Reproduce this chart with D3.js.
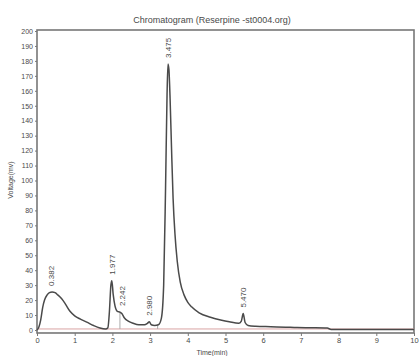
<!DOCTYPE html>
<html>
<head>
<meta charset="utf-8">
<script src="https://cdn.jsdelivr.net/npm/d3@7"></script>
<style>
  body { margin: 0; background: #fff; }
  svg { display: block; font-family: "Liberation Sans Narrow", "Liberation Sans", sans-serif; }
</style>
</head>
<body>
<div id="chart"></div>
<script>
// retention time (min) and detector voltage (mV)
const times = [0, 0.05, 0.1, 0.15, 0.2, 0.27, 0.33, 0.4, 0.48, 0.55, 0.65, 0.75, 0.875, 1.0, 1.15, 1.32, 1.5, 1.67, 1.82,
  1.88, 1.92, 1.96, 1.985, 2.02, 2.07, 2.13, 2.2, 2.25, 2.32, 2.42, 2.55, 2.7, 2.85, 2.93, 2.98, 3.03, 3.12, 3.22,
  3.3, 3.36, 3.41, 3.45, 3.475, 3.5, 3.53, 3.57, 3.61, 3.66, 3.72, 3.8, 3.9, 4.0, 4.1, 4.3, 4.6, 4.9, 5.1, 5.35,
  5.42, 5.47, 5.52, 5.6, 5.8, 6.2, 6.6, 6.9, 7.3, 7.7, 7.8, 8.5, 9.2, 10];
const volts = [0, 2, 7, 15, 20, 23.5, 25, 25.5, 25, 23.5, 21, 17.5, 12.5, 9.5, 7.3, 5.3, 3, 1.3, 0.6,
  1.5, 12, 30, 33, 24, 16, 12.5, 12, 11, 8, 6, 4.5, 3.5, 3.5, 4.5, 5.5, 3.5, 3, 3.5,
  8, 30, 95, 158, 178, 174, 155, 120, 88, 64, 46, 32, 23.5, 18.5, 15.5, 11.5, 8.5, 6.5, 5.5, 4.5,
  6, 11, 5, 3, 2.5, 2.2, 1.9, 1.6, 1.5, 1.3, 0.4, 0.3, 0.3, 0.3];

const peakTimes = [0.382, 1.977, 2.242, 2.980, 3.475, 5.470];
const peakHeights = [25.5, 33, 12, 5.5, 178, 11];
const peakLabels = ["0.382", "1.977", "2.242", "2.980", "3.475", "5.470"];
const dropTimes = [2.2, 3.2];

const xTicks = d3.range(0, 11, 1);
const yTicks = d3.range(0, 201, 10);

const W = 419, H = 356;
const svg = d3.select("#chart").append("svg").attr("width", W).attr("height", H);

const x = d3.scaleLinear().domain([0, 10]).range([37, 414]);
const y = d3.scaleLinear().domain([0, 200]).range([330, 31]);
const yBottom = y(-2);

const ink = "#4a4a4a";

// frame
svg.append("rect")
  .attr("x", x(0)).attr("y", y(200) - 1)
  .attr("width", x(10) - x(0)).attr("height", yBottom - y(200) + 1)
  .attr("fill", "none").attr("stroke", "#777").attr("stroke-width", 1.6);

// axes
const yAxis = svg.append("g").attr("transform", `translate(${x(0)},0)`)
  .call(d3.axisLeft(y).tickValues(yTicks).tickSize(2).tickPadding(2));
yAxis.select(".domain").remove();
yAxis.selectAll("text").attr("font-size", 7).attr("fill", ink);
yAxis.selectAll("line").attr("stroke", "#777");

const xAxis = svg.append("g").attr("transform", `translate(0,${yBottom})`)
  .call(d3.axisBottom(x).tickValues(xTicks).tickSize(3).tickPadding(2));
xAxis.select(".domain").remove();
xAxis.selectAll("text").attr("font-size", 7.5).attr("fill", ink);
xAxis.selectAll("line").attr("stroke", "#777");

// baseline
svg.append("line")
  .attr("x1", x(0)).attr("x2", x(10))
  .attr("y1", y(0.7)).attr("y2", y(0.7))
  .attr("stroke", "#d9a3a3").attr("stroke-width", 1);

// integration drop lines
svg.selectAll(".drop").data(dropTimes).enter().append("line")
  .attr("x1", d => x(d)).attr("x2", d => x(d))
  .attr("y1", y(0.7)).attr("y2", (d, i) => y(i === 0 ? 12 : 3.5))
  .attr("stroke", "#aaa").attr("stroke-width", 1);

// trace
const pts = times.map((t, i) => [t, volts[i]]);
const line = d3.line().x(d => x(d[0])).y(d => y(d[1])).curve(d3.curveMonotoneX);
svg.append("path").datum(pts)
  .attr("d", line)
  .attr("fill", "none").attr("stroke", ink).attr("stroke-width", 1.5);

// peak labels
svg.selectAll(".plabel").data(peakTimes).enter().append("text")
  .attr("transform", (d, i) => `translate(${x(d) + 3},${y(peakHeights[i]) - 6}) rotate(-90)`)
  .attr("font-size", 8).attr("fill", ink)
  .text((d, i) => peakLabels[i]);

// titles
svg.append("text").attr("x", 212).attr("y", 23).attr("text-anchor", "middle")
  .attr("font-size", 9).attr("fill", ink)
  .text("Chromatogram (Reserpine -st0004.org)");

svg.append("text").attr("transform", "translate(13,180) rotate(-90)")
  .attr("text-anchor", "middle").attr("font-size", 7).attr("fill", ink)
  .text("Voltage(mv)");

svg.append("text").attr("x", 212).attr("y", 355).attr("text-anchor", "middle")
  .attr("font-size", 7).attr("fill", ink)
  .text("Time(min)");
</script>
</body>
</html>
